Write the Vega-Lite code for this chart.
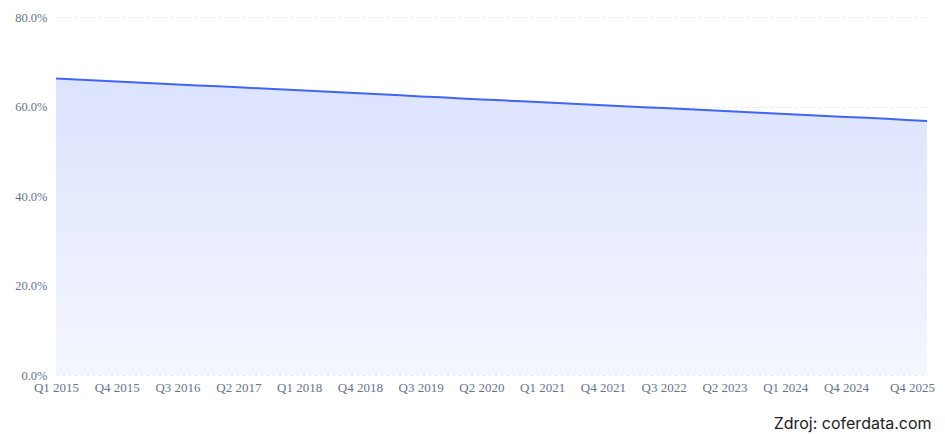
{
  "$schema": "https://vega.github.io/schema/vega-lite/v6.json",
  "autosize": "none",
  "width": 871,
  "height": 358,
  "padding": {"left": 56, "top": 17, "right": 18, "bottom": 59},
  "background": "white",
  "config": {"view": {"stroke": null}},
  "title": {"text": "Zdroj: coferdata.com", "orient": "bottom", "anchor": "end", "font": "Inter", "fontSize": 16, "fontWeight": "normal", "color": "#222222", "offset": 22, "dx": -3},
  "data": {"values": [
    {"q": "Q1 2015", "v": 66.27}, {"q": "Q2 2015", "v": 66.05}, {"q": "Q3 2015", "v": 65.83}, {"q": "Q4 2015", "v": 65.60},
    {"q": "Q1 2016", "v": 65.38}, {"q": "Q2 2016", "v": 65.16}, {"q": "Q3 2016", "v": 64.94}, {"q": "Q4 2016", "v": 64.72},
    {"q": "Q1 2017", "v": 64.50}, {"q": "Q2 2017", "v": 64.28}, {"q": "Q3 2017", "v": 64.06}, {"q": "Q4 2017", "v": 63.84},
    {"q": "Q1 2018", "v": 63.61}, {"q": "Q2 2018", "v": 63.39}, {"q": "Q3 2018", "v": 63.16}, {"q": "Q4 2018", "v": 62.94},
    {"q": "Q1 2019", "v": 62.71}, {"q": "Q2 2019", "v": 62.49}, {"q": "Q3 2019", "v": 62.26}, {"q": "Q4 2019", "v": 62.04},
    {"q": "Q1 2020", "v": 61.81}, {"q": "Q2 2020", "v": 61.59}, {"q": "Q3 2020", "v": 61.37}, {"q": "Q4 2020", "v": 61.15},
    {"q": "Q1 2021", "v": 60.94}, {"q": "Q2 2021", "v": 60.72}, {"q": "Q3 2021", "v": 60.51}, {"q": "Q4 2021", "v": 60.29},
    {"q": "Q1 2022", "v": 60.08}, {"q": "Q2 2022", "v": 59.86}, {"q": "Q3 2022", "v": 59.65}, {"q": "Q4 2022", "v": 59.43},
    {"q": "Q1 2023", "v": 59.22}, {"q": "Q2 2023", "v": 59.00}, {"q": "Q3 2023", "v": 58.78}, {"q": "Q4 2023", "v": 58.56},
    {"q": "Q1 2024", "v": 58.34}, {"q": "Q2 2024", "v": 58.12}, {"q": "Q3 2024", "v": 57.90}, {"q": "Q4 2024", "v": 57.68},
    {"q": "Q1 2025", "v": 57.46}, {"q": "Q2 2025", "v": 57.24}, {"q": "Q3 2025", "v": 57.01}, {"q": "Q4 2025", "v": 56.78}
  ]},
  "encoding": {
    "x": {
      "field": "q", "type": "ordinal", "sort": null,
      "scale": {"type": "point", "padding": 0},
      "axis": {
        "title": null, "labelAngle": 0, "domain": false, "ticks": false, "grid": false,
        "values": ["Q1 2015", "Q4 2015", "Q3 2016", "Q2 2017", "Q1 2018", "Q4 2018", "Q3 2019", "Q2 2020", "Q1 2021", "Q4 2021", "Q3 2022", "Q2 2023", "Q1 2024", "Q4 2024", "Q4 2025"],
        "labelFont": "Liberation Serif", "labelFontSize": 13, "labelColor": "#68738a", "labelPadding": 6,
        "labelOverlap": false,
        "labelOffset": {"condition": {"test": "datum.value == 'Q4 2025'", "value": -15}, "value": 0}
      }
    },
    "y": {
      "field": "v", "type": "quantitative",
      "scale": {"domain": [0, 80]},
      "axis": {
        "title": null, "values": [0, 20, 40, 60, 80], "domain": false, "ticks": false,
        "labelExpr": "format(datum.value, '.1f') + '%'",
        "labelFont": "Liberation Serif", "labelFontSize": 12.5, "labelColor": "#68738a", "labelPadding": 9,
        "gridColor": "#e6e8ee", "gridDash": [3, 3], "gridWidth": 1
      }
    }
  },
  "layer": [
    {
      "mark": {
        "type": "area",
        "color": {"gradient": "linear", "x1": 1, "y1": 1, "x2": 1, "y2": 0,
          "stops": [{"offset": 0, "color": "#f4f6fe"}, {"offset": 1, "color": "#dce3fd"}]}
      }
    },
    {
      "mark": {"type": "line", "color": "#4264f5", "strokeWidth": 2}
    }
  ]
}
